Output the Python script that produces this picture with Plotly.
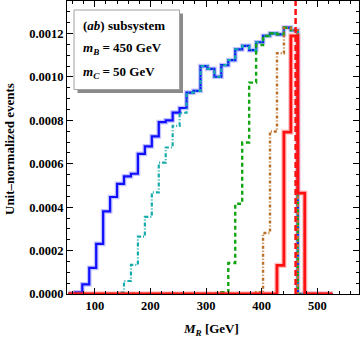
import plotly.graph_objects as go

# histogram bins: 12.5 GeV wide, first edge 52.5 GeV
bin_width = 12.5
edges = [52.5 + bin_width * i for i in range(39)]

# unit-normalized events, in units of 1e-4
scale = 1e-4
blue = [0.02, 0.08, 0.44, 1.20, 2.31, 3.81, 4.47, 5.07, 5.42, 5.54,
        6.46, 6.80, 7.26, 7.92, 8.00, 8.36, 8.57, 9.28, 9.36, 10.50,
        10.37, 10.01, 10.55, 10.78, 11.27, 11.43, 11.24, 11.60, 11.89, 12.01,
        11.96, 12.27, 12.16, 0, 0, 0, 0, 0]
cyan = [0, 0, 0, 0, 0, 0, 0, 0.08, 0.60, 1.34,
        2.64, 3.55, 4.68, 6.05, 6.75, 7.75, 8.35, 9.28, 9.36, 10.50,
        10.37, 10.01, 10.55, 10.78, 11.27, 11.43, 11.24, 11.60, 11.89, 12.01,
        11.96, 12.27, 12.16, 0, 0, 0, 0, 0]
green = [0, 0, 0, 0, 0, 0, 0, 0, 0, 0,
         0, 0, 0, 0, 0, 0, 0, 0, 0, 0,
         0, 0.02, 0.08, 1.43, 4.16, 6.98, 9.74, 11.47, 11.89, 12.01,
         11.96, 12.27, 12.16, 0, 0, 0, 0, 0]
brown = [0, 0, 0, 0, 0, 0, 0, 0, 0, 0,
         0, 0, 0, 0, 0, 0, 0, 0, 0, 0,
         0, 0, 0, 0, 0, 0, 0, 0.08, 2.81, 7.49,
         11.09, 12.27, 12.16, 0, 0, 0, 0, 0]
red = [0, 0, 0, 0, 0, 0, 0, 0, 0, 0,
       0, 0, 0, 0, 0, 0, 0, 0, 0, 0,
       0, 0, 0, 0, 0, 0, 0, 0, 0, 0,
       1.32, 7.46, 11.89, 4.65, 0, 0, 0, 0]

endpoint = 461  # dashed red line
legend_lines = ["(<i>ab</i>) subsystem",
                "<i>m</i><sub><i>B</i></sub> = 450 GeV",
                "<i>m</i><sub><i>C</i></sub> = 50 GeV"]

serif = "Liberation Serif"


def steps(vals):
    ys = [v * scale for v in vals]
    return edges, ys + [ys[-1]]


series = [
    (blue, "#1010ff", "solid", 2.2, "rgba(80,80,255,0.35)"),
    (cyan, "#17abab", "4px,2px,1px,2px", 2.2, None),
    (green, "#12a612", "4px,3px", 2.4, None),
    (brown, "#b8702a", "3px,2px,1px,2px", 2.4, None),
    (red, "#ff1010", "solid", 2.8, "rgba(255,80,80,0.35)"),
]

fig = go.Figure()
for vals, col, dash, w, halo in series:
    xs, ys = steps(vals)
    if halo:
        fig.add_trace(go.Scatter(x=xs, y=ys, mode="lines", line_shape="hv",
                                 line=dict(color=halo, width=w + 2.5),
                                 hoverinfo="skip", showlegend=False))
    fig.add_trace(go.Scatter(x=xs, y=ys, mode="lines", line_shape="hv",
                             line=dict(color=col, width=w, dash=dash),
                             showlegend=False))

fig.add_shape(type="line", x0=endpoint, x1=endpoint, xref="x",
              y0=0, y1=1, yref="paper",
              line=dict(color="#ff1010", width=2.5, dash="6px,3px"))

# legend box with drop shadow
px = lambda p: (p - 67) / 292
py = lambda p: (294 - p) / 293
fig.add_shape(type="rect", xref="paper", yref="paper",
              x0=px(77.5), x1=px(183), y0=py(93), y1=py(13.5),
              fillcolor="#8a8a8a", line=dict(width=0))
fig.add_shape(type="rect", xref="paper", yref="paper",
              x0=px(74), x1=px(179.5), y0=py(89.5), y1=py(10),
              fillcolor="white", line=dict(color="#a0a0a0", width=1))
for txt, yc in zip(legend_lines, [25, 48.5, 72]):
    fig.add_annotation(text=txt, xref="paper", yref="paper",
                       x=px(81), y=py(yc), xanchor="left", yanchor="middle",
                       showarrow=False,
                       font=dict(family=serif, size=13, color="black", weight="bold"))

fig.add_annotation(text="Unit–normalized events", xref="paper", yref="paper",
                   x=px(9), y=py(149), textangle=-90, showarrow=False,
                   xanchor="center", yanchor="middle",
                   font=dict(family=serif, size=13, color="black", weight="bold"))
fig.add_annotation(text="<i>M</i><sub><i>R</i></sub> [GeV]", xref="paper", yref="paper",
                   x=px(211), y=py(329), showarrow=False,
                   xanchor="center", yanchor="middle",
                   font=dict(family=serif, size=13, color="black", weight="bold"))

axis_common = dict(showgrid=False, zeroline=False, showline=True, linecolor="black",
                   linewidth=1, mirror="allticks", ticks="inside", tickcolor="black",
                   ticklen=6, tickwidth=1,
                   tickfont=dict(family=serif, size=12.5, color="black", weight="bold"))

fig.update_layout(
    width=360, height=339,
    margin=dict(l=67, r=1, t=1, b=45),
    paper_bgcolor="white", plot_bgcolor="white",
    xaxis=dict(range=[50, 575], tickvals=[100, 200, 300, 400, 500],
               minor=dict(dtick=20, tick0=0, ticklen=3, ticks="inside", tickcolor="black"),
               **axis_common),
    yaxis=dict(range=[0, 0.00135], dtick=0.0002, tickformat=".4f",
               minor=dict(dtick=0.00005, ticklen=3, ticks="inside", tickcolor="black"),
               **axis_common),
)

# the page body has a default margin; remove it so the figure sits at the corner
fig.write_html("out.html", config={"displayModeBar": False},
               post_script="document.body.style.margin='0';document.body.style.overflow='hidden';")
